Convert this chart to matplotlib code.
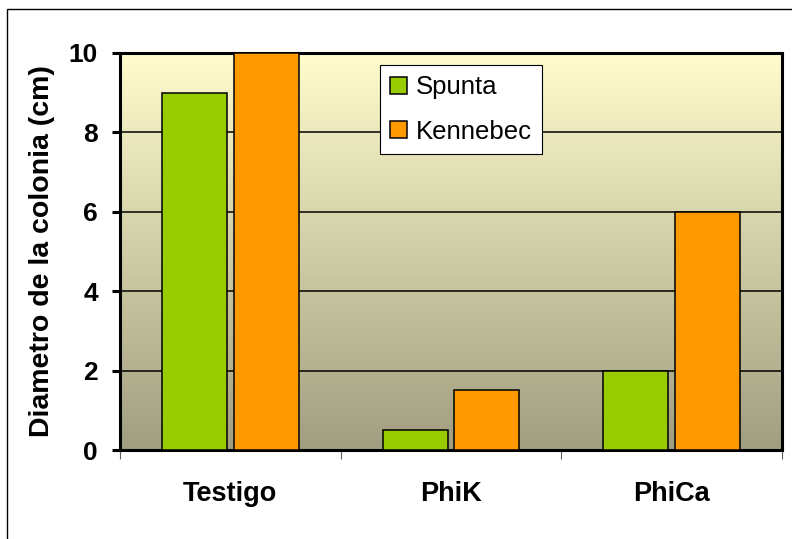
import numpy as np
import matplotlib
matplotlib.use("Agg")
import matplotlib.pyplot as plt
from matplotlib.patches import Rectangle

plt.rcParams['font.family'] = ['Liberation Sans', 'DejaVu Sans']

# --- DATA ---
categories = ["Testigo", "PhiK", "PhiCa"]
spunta = [9, 0.5, 2]
kennebec = [10, 1.5, 6]
series_names = ["Spunta", "Kennebec"]
y_ticks = [0, 2, 4, 6, 8, 10]

# --- FIGURE ---
fig = plt.figure(figsize=(7.92, 5.39), dpi=100)
ax = fig.add_axes([120 / 792, 1 - 450 / 539, 662 / 792, 397 / 539])

# outer chart border (only top and left visible in the picture)
fig.patches.append(Rectangle((7 / 792, -0.05), 1.1, 1 - 9 / 539 + 0.05,
                             transform=fig.transFigure, fill=False,
                             edgecolor="black", linewidth=1.0))

# gradient background of the plot area
top = np.array([255, 252, 205]) / 255
bottom = np.array([160, 158, 128]) / 255
t = np.linspace(0, 1, 256)[:, None]
grad = (top * (1 - t) + bottom * t)[:, None, :]
ax.imshow(grad, extent=[-0.5, 2.5, 0, 10], aspect="auto", zorder=0)

# bars
x = np.arange(len(categories))
w = 0.295
ax.bar(x - 0.162, spunta, w, color="#99CC00", edgecolor="black",
       linewidth=1.1, label=series_names[0], zorder=3)
ax.bar(x + 0.162, kennebec, w, color="#FF9900", edgecolor="black",
       linewidth=1.1, label=series_names[1], zorder=3)

ax.set_xlim(-0.5, 2.5)
ax.set_ylim(0, 10)

# grid
ax.set_yticks(y_ticks)
ax.yaxis.grid(True, color="black", linewidth=1.1, zorder=1)
ax.set_axisbelow(True)

# axes styling
for sp in ax.spines.values():
    sp.set_linewidth(2.2)
    sp.set_color("black")

ax.tick_params(axis="y", direction="out", length=6, width=2.2, pad=10,
               labelsize=19)
for lbl in ax.get_yticklabels():
    lbl.set_fontweight("bold")

ax.set_xticks(x)
ax.set_xticklabels(categories, fontsize=19.5, fontweight="bold")
ax.tick_params(axis="x", which="major", length=0, pad=22)
ax.set_xticks([-0.5, 0.5, 1.5, 2.5], minor=True)
ax.tick_params(axis="x", which="minor", direction="out", length=6.5,
               width=0.8, color="#606060")

ax.set_ylabel("Diametro de la colonia (cm)", fontsize=20.5, fontweight="bold")
ax.yaxis.set_label_coords(-0.098, 0.5)

# legend
leg = ax.legend(loc="upper left", bbox_to_anchor=(0.393, 0.970),
                borderaxespad=0, fontsize=18.5, frameon=True, fancybox=False,
                handlelength=0.65, handleheight=0.65, handletextpad=0.35,
                labelspacing=0.8, borderpad=0.4)
leg.get_frame().set_edgecolor("black")
leg.get_frame().set_linewidth(0.8)
leg.get_frame().set_facecolor("white")
leg.get_frame().set_alpha(1)
leg.set_zorder(5)

fig.savefig("out.png", dpi=100)
